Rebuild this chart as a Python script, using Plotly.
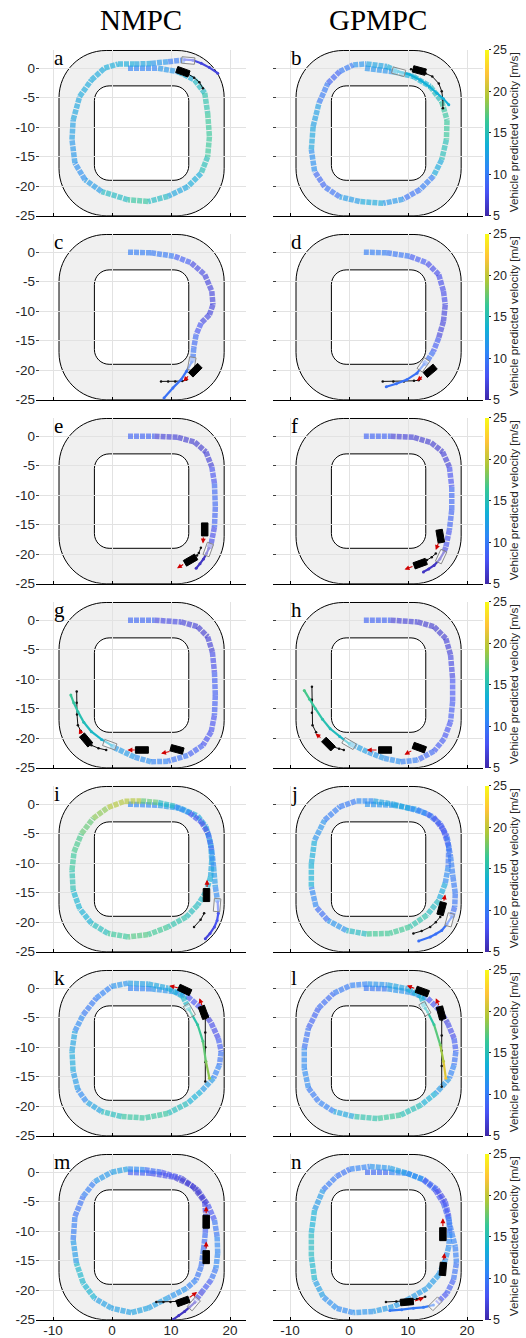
import math
import plotly.graph_objects as go

# ---------------- colour scale (parula) ----------------
VMIN, VMAX = 5, 25
PARULA_POS = [0.0, 1 / 7, 2 / 7, 3 / 7, 4 / 7, 5 / 7, 6 / 7, 1.0]
PARULA_RGB = [(0.2422, 0.1504, 0.6603), (0.2810, 0.3228, 0.9579), (0.1786, 0.5289, 0.9682),
              (0.0689, 0.6948, 0.8394), (0.2161, 0.7843, 0.5923), (0.6720, 0.7793, 0.2227),
              (0.9970, 0.7659, 0.2199), (0.9769, 0.9839, 0.0805)]
CBAR_TICKS = [5, 10, 15, 20, 25]
CBAR_TITLE = "Vehicle predicted velocity [m/s]"
COL_TITLES = ["NMPC", "GPMPC"]
LETTERS = list("abcdefghijklmn")

# ---------------- track geometry ----------------
TRACK_OUT = (-9, -25, 19, 3, 8)
TRACK_IN = (-3, -19, 13, -3, 2.5)

# ---------------- panel data ----------------
# history (x, y, velocity), prediction (x, y, velocity), ego (x, y, heading)
# other cars (x, y, heading), red velocity arrows (x0, y0, x1, y1), black predicted paths
A_HX = [2.7, 7.8, 11.2, 14.0, 15.7, 16.2, 16.5, 16.2, 15.1, 12.8, 9.5, 6.1, 2.7, -1.8, -4.6, -6.3, -6.8, -6.6, -5.5, -3.5, -1.3, 1.0, 3.8, 6.6, 9.5, 12.3]
A_HY = [0.0, 0.0, -0.6, -2.0, -4.2, -7.6, -11.6, -15.0, -17.8, -20.1, -21.7, -22.6, -22.3, -20.9, -18.9, -16.1, -12.1, -8.8, -4.8, -2.0, 0.0, 0.7, 0.7, 0.8, 1.1, 1.4]
A_HV = [10, 11, 12.5, 14, 15, 16, 16.5, 16, 14, 12.5, 13, 16, 16, 13, 11, 11.5, 12, 12.5, 13, 13, 13, 13.5, 13, 12.5, 11, 9]
A_PX = [12.3, 13.7, 15.1, 16.5, 17.9]
A_PY = [1.45, 1.35, 0.85, 0.1, -0.85]
A_PV = [8, 7.5, 7, 7, 7]
A_EGO = (12.9, 1.3, -5)
A_CARS = [(12.0, -0.6, -20)]
A_ARROWS = []
A_PATHS = [[(12.9, -1.0), (13.9, -1.6), (14.8, -2.4), (15.4, -3.4)]]

B_HX = [2.7, 7.5, 10.9, 13.75, 15.7, 16.6, 16.5, 15.7, 14.3, 12.0, 9.2, 5.8, 1.8, -1.6, -4.15, -5.85, -6.4, -6.1, -5.1, -3.6, -1.6, 0.7, 2.95, 6.4, 8.35]
B_HY = [0.0, -0.6, -1.4, -3.1, -5.65, -8.8, -12.1, -15.5, -18.3, -20.6, -22.2, -22.9, -22.6, -21.8, -20.1, -17.5, -13.8, -9.9, -5.9, -2.55, -0.57, 0.56, 0.73, 0.28, -0.57]
B_HV = [10, 13, 13.5, 14, 15.5, 16.5, 16, 14, 12, 8.5, 10.5, 13, 13, 11, 8, 10, 12.5, 13, 11.5, 8.5, 9, 11, 12, 13, 13.5]
B_PX = [8.35, 10.35, 12.05, 13.6, 14.9, 16.0, 16.9]
B_PY = [-0.57, -1.1, -2.0, -3.1, -4.25, -5.2, -6.2]
B_PV = [13.5, 13.5, 13.5, 13.5, 13.5, 13.5, 13.5]
B_EGO = (8.4, -0.6, -15)
B_CARS = [(11.9, -0.4, -15)]
B_ARROWS = []
B_PATHS = [[(10.5, -0.2), (13.0, -0.9), (14.1, -1.4), (15.2, -2.6), (15.7, -3.9), (15.9, -5.3), (15.9, -6.8)]]

C_HX = [2.7, 6.6, 10.6, 13.4, 15.7, 16.9, 17.1, 16.5, 15.1, 14.25, 13.85, 13.7, 13.5]
C_HY = [0.0, -0.1, -0.7, -1.8, -3.8, -6.6, -8.9, -10.6, -12.0, -13.95, -16.2, -17.9, -18.6]
C_HV = [10, 10.5, 9.5, 7.5, 7, 7, 7, 7, 7.5, 8.5, 9.5, 9.5, 9.5]
C_PX = [13.5, 12.6, 11.7, 10.3, 8.8]
C_PY = [-18.6, -20.2, -21.6, -23.0, -24.7]
C_PV = [9.5, 9.5, 9.5, 9.5, 9.5]
C_EGO = (13.5, -18.9, -100)
C_CARS = [(14.1, -20.0, -135)]
C_ARROWS = [(13.1, -20.8, 12.1, -21.9)]
C_PATHS = [[(8.3, -21.9), (9.5, -21.9), (10.7, -21.9), (11.9, -21.85), (12.6, -21.6)]]

D_HX = [2.5, 6.4, 10.3, 13.2, 15.2, 16.0, 16.3, 16.0, 15.2, 14.3, 13.2, 12.7]
D_HY = [0.0, -0.1, -0.7, -1.8, -3.8, -6.6, -8.9, -11.7, -14.5, -16.8, -18.5, -19.0]
D_HV = [10, 10.5, 9, 7.5, 7.5, 7.5, 7.5, 6.5, 7.5, 9, 9.5, 9.5]
D_PX = [12.7, 11.5, 9.8, 8.0, 6.3]
D_PY = [-19.0, -20.5, -21.6, -22.3, -22.8]
D_PV = [9.5, 9.5, 9.5, 9.5, 9.5]
D_EGO = (12.6, -19.1, -125)
D_CARS = [(13.75, -20.1, -140)]
D_ARROWS = [(12.6, -20.9, 11.5, -21.8)]
D_PATHS = [[(5.7, -21.9), (7.5, -21.9), (9.3, -21.9), (11.0, -21.8), (11.8, -21.7)]]

E_HX = [2.7, 7.2, 11.15, 14.0, 15.9, 16.9, 17.35, 17.5, 17.35, 16.8, 16.4]
E_HY = [0.0, 0.0, -0.2, -1.0, -2.65, -5.2, -8.0, -12.0, -15.4, -18.2, -19.0]
E_HV = [10.5, 7, 6.5, 6.5, 6.5, 7, 8.5, 9.5, 8, 7, 7]
E_PX = [16.4, 16.0, 15.5, 14.9, 14.25]
E_PY = [-19.0, -19.9, -20.8, -21.6, -22.4]
E_PV = [6, 6, 6, 6, 6]
E_EGO = (16.3, -19.2, -110)
E_CARS = [(15.7, -15.8, -90), (13.3, -21.0, -150)]
E_ARROWS = [(15.5, -16.9, 15.4, -18.2), (12.3, -21.6, 11.0, -22.4)]
E_PATHS = [[(14.4, -20.2), (14.7, -19.8), (15.05, -18.9)]]

F_HX = [2.5, 7.05, 11.0, 13.9, 15.85, 17.0, 17.4, 17.4, 17.0, 16.4, 16.1]
F_HY = [0.0, 0.0, -0.2, -1.1, -2.65, -5.2, -8.6, -12.5, -15.9, -18.8, -19.6]
F_HV = [10.5, 7, 6.5, 6.5, 6.5, 7, 8.5, 9.5, 8, 7.5, 7]
F_PX = [16.1, 15.4, 14.4, 13.5, 12.6]
F_PY = [-19.6, -20.8, -21.9, -22.5, -23.0]
F_PV = [6, 6, 6, 6, 6]
F_EGO = (15.6, -20.4, -115)
F_CARS = [(15.45, -16.95, -80), (12.05, -21.6, -160)]
F_ARROWS = [(15.2, -17.9, 14.7, -19.3), (11.0, -22.0, 9.4, -22.6)]
F_PATHS = [[(13.2, -21.0), (14.0, -20.5), (14.7, -19.9)]]

G_HX = [2.7, 7.2, 11.7, 14.5, 16.2, 17.0, 17.35, 17.5, 17.35, 16.8, 15.4, 12.85, 9.5, 6.6, 3.8, 0.4, -0.1]
G_HY = [0.0, 0.0, -0.3, -1.1, -2.8, -5.4, -8.8, -12.7, -16.1, -18.9, -21.2, -22.9, -23.9, -24.0, -23.2, -21.6, -21.2]
G_HV = [10.5, 7.5, 7, 6.5, 6.5, 7, 8, 9, 8, 7.5, 8, 9, 10, 11, 11.5, 12.5, 12.5]
G_PX = [-0.1, -1.8, -3.5, -4.8, -5.8, -6.5, -7.0]
G_PY = [-21.2, -20.2, -18.9, -17.3, -15.5, -14.0, -12.7]
G_PV = [13.5, 14, 14.5, 15, 15.5, 16, 16.5]
G_EGO = (-0.4, -21.1, 160)
G_CARS = [(5.05, -22.0, 180), (11.0, -21.9, 165), (-4.4, -20.3, 130)]
G_ARROWS = [(4.1, -22.0, 2.6, -22.0), (10.0, -22.2, 8.3, -22.6), (-5.1, -19.5, -5.6, -18.4)]
G_PATHS = [[(-6.0, -12.1), (-6.0, -14.0), (-5.95, -16.0), (-5.8, -17.8), (-5.3, -18.8)],
           [(-3.5, -21.2), (-2.3, -21.7), (-1.0, -22.0)]]

H_HX = [2.5, 7.05, 11.6, 14.4, 16.4, 17.2, 17.55, 17.55, 17.2, 16.1, 14.4, 11.6, 8.75, 5.9, 3.1, 0.8, 0.0]
H_HY = [0.0, 0.0, -0.3, -1.1, -3.1, -5.9, -9.9, -13.8, -17.2, -20.1, -22.2, -23.7, -24.0, -23.4, -22.3, -21.2, -20.9]
H_HV = [10.5, 7, 6.5, 6.5, 6.5, 7, 7.5, 8.5, 8, 8, 8.5, 9.5, 11, 11.5, 12, 12.5, 13]
H_PX = [0.0, -1.6, -3.2, -4.5, -5.7, -6.7, -7.6]
H_PY = [-20.9, -19.7, -18.4, -16.8, -15.0, -13.4, -11.9]
H_PV = [14, 14.5, 15, 15.5, 16, 16.5, 17]
H_EGO = (0.0, -20.9, 150)
H_CARS = [(6.1, -22.0, 180), (11.9, -21.6, 160), (-3.5, -21.0, 135)]
H_ARROWS = [(4.9, -22.0, 3.0, -22.0), (10.8, -22.0, 9.4, -22.8), (-4.6, -20.1, -5.7, -19.2)]
H_PATHS = [[(-6.3, -11.3), (-6.3, -13.5), (-6.3, -15.7), (-6.2, -17.8), (-5.6, -19.0)],
           [(-2.6, -21.5), (-1.7, -21.8), (-0.9, -22.0)]]

I_HX = [2.7, 7.8, 11.7, 14.5, 15.9, 16.7, 16.9, 16.7, 15.9, 14.5, 12.6, 9.5, 6.1, 2.7, -0.7, -3.5, -5.5, -6.6, -6.8, -6.45, -5.2, -3.2, -0.7, 2.1, 4.9, 7.8, 10.6, 13.1, 15.1, 16.3, 16.9, 17.2, 17.5, 17.9]
I_HY = [0.0, -0.17, -0.73, -2.0, -3.8, -6.6, -9.5, -12.3, -14.9, -17.1, -19.1, -20.8, -22.1, -22.5, -21.9, -20.2, -17.7, -14.6, -11.2, -8.1, -5.0, -2.4, -0.56, 0.5, 0.56, 0.28, -0.34, -1.47, -3.0, -5.0, -7.8, -10.6, -14.0, -16.55]
I_HV = [10, 11.5, 12.5, 13, 13, 13, 12.5, 13, 14, 14.5, 15, 16, 17, 17, 15.5, 14, 13, 14.5, 16, 16.5, 17, 18, 19, 20, 19, 16, 13, 9, 7, 8, 10, 12, 12, 10]
I_PX = [17.9, 18.0, 17.8, 17.35, 16.6, 15.8]
I_PY = [-16.55, -18.5, -19.7, -20.8, -21.9, -22.8]
I_PV = [9, 8, 8, 7.5, 7, 7]
I_EGO = (17.8, -17.1, -95)
I_CARS = [(16.0, -15.4, 90)]
I_ARROWS = [(16.1, -14.3, 16.1, -12.8)]
I_PATHS = [[(15.6, -18.5), (15.0, -19.6), (13.9, -20.8)]]

J_HX = [2.7, 7.5, 11.5, 14.3, 16.0, 16.9, 16.8, 16.3, 15.2, 13.2, 10.3, 6.9, 2.95, -0.45, -3.6, -5.6, -6.4, -6.4, -5.85, -4.15, -1.6, 1.25, 4.1, 7.5, 10.3, 13.2, 15.45, 16.6, 17.2, 17.6, 18.0, 17.9, 17.4]
J_HY = [0.0, -0.17, -0.9, -2.15, -4.4, -7.2, -10.6, -13.4, -16.3, -18.8, -20.8, -21.9, -22.0, -21.4, -19.7, -17.4, -14.0, -10.1, -6.1, -2.7, -0.45, 0.56, 0.56, 0.0, -0.73, -1.6, -3.3, -5.5, -8.9, -12.3, -15.1, -17.4, -19.1]
J_HV = [10, 13, 12, 8, 7, 9, 10, 12, 14, 15, 16, 17, 16, 13, 10, 8.5, 13, 14, 12.5, 10.5, 10, 10, 12, 13, 12, 10, 8, 9, 10.5, 10, 10, 9.5, 9]
J_PX = [17.4, 16.6, 15.7, 14.7, 13.75, 11.8]
J_PY = [-19.1, -20.3, -21.4, -22.0, -22.5, -23.2]
J_PV = [9.5, 9.5, 9.5, 9.5, 9.5, 9.5]
J_EGO = (17.05, -19.6, -105)
J_CARS = [(15.7, -17.7, 75)]
J_ARROWS = [(16.0, -16.6, 16.3, -15.3)]
J_PATHS = [[(15.45, -19.1), (14.7, -20.0), (13.75, -20.8), (12.3, -21.5), (10.9, -21.9)]]

K_HX = [2.7, 6.6, 10.6, 12.8, 15.1, 16.8, 18.0, 18.5, 18.2, 17.2, 15.1, 12.8, 9.5, 5.5, 1.6, -1.8, -4.4, -5.8, -6.6, -6.8, -6.3, -4.9, -2.7, -0.1, 2.7, 6.1, 9.5, 12.0, 13.1]
K_HY = [0.0, -0.1, -0.6, -1.4, -3.4, -5.9, -8.5, -10.7, -13.0, -15.25, -17.5, -19.5, -21.2, -22.0, -21.75, -20.9, -19.2, -17.2, -14.1, -10.7, -7.3, -4.5, -1.7, 0.3, 0.85, 0.7, 0.0, -1.4, -3.7]
K_HV = [10, 11, 12, 9, 7, 7, 8, 9, 10, 11, 13, 14, 15.5, 16.5, 15.5, 14, 11, 11, 13, 13, 12, 10, 10, 11, 12, 12.5, 13, 14, 14.5]
K_PX = [13.1, 14.5, 15.4, 15.9, 16.5]
K_PY = [-3.7, -6.2, -9.0, -12.4, -15.25]
K_PV = [15, 16, 17, 18, 19]
K_EGO = (13.1, -3.8, -60)
K_CARS = [(12.3, -0.3, 155), (15.5, -4.1, 110)]
K_ARROWS = [(11.4, 0.0, 9.7, 0.4), (15.3, -3.1, 14.8, -1.7)]
K_PATHS = [[(15.8, -5.1), (15.8, -7.5), (15.8, -10.0), (15.8, -12.5), (15.8, -15.8)]]

L_HX = [2.5, 6.5, 10.45, 13.3, 15.3, 16.7, 17.8, 18.1, 17.8, 17.0, 14.7, 12.2, 8.75, 4.8, 0.8, -2.6, -5.2, -6.9, -7.6, -7.6, -6.9, -5.2, -2.6, 0.2, 3.1, 6.5, 9.9, 12.2, 12.9]
L_HY = [0.0, -0.1, -0.7, -1.7, -3.7, -5.9, -8.5, -10.7, -13.0, -15.25, -17.8, -19.8, -21.5, -22.1, -21.75, -20.9, -19.2, -16.9, -13.6, -10.2, -6.8, -3.4, -0.85, 0.45, 0.7, 0.56, -0.1, -1.4, -3.4]
L_HV = [9.5, 10, 13, 9, 7, 7, 8, 9, 10, 11, 13, 14, 16, 16.5, 14.5, 11, 10, 10, 12, 10, 9, 8.5, 10, 10, 11, 12, 13, 14, 14]
L_PX = [12.9, 13.3, 14.4, 15.45, 16.0, 16.4]
L_PY = [-3.4, -4.0, -6.2, -9.6, -12.4, -15.25]
L_PV = [14.5, 15, 16.5, 18, 20, 22]
L_EGO = (12.85, -3.5, -60)
L_CARS = [(12.4, -0.56, 160), (15.6, -4.2, 105)]
L_ARROWS = [(11.3, -0.1, 9.8, 0.45), (15.3, -3.1, 14.7, -1.7)]
L_PATHS = [[(15.7, -5.4), (15.7, -8.0), (15.7, -10.6), (15.7, -13.2), (15.7, -16.7)]]

M_HX = [2.7, 6.6, 10.6, 13.7, 15.7, 15.9, 15.8, 15.5, 15.1, 14.25, 12.6, 9.5, 6.1, 3.25, -0.1, -2.95, -4.9, -6.05, -6.6, -6.3, -4.9, -2.95, -0.1, 2.7, 5.5, 8.3, 11.7, 14.5, 16.2, 17.35, 17.8, 17.9, 17.6, 16.8, 15.4, 14.0]
M_HY = [0.0, -0.17, -0.85, -2.4, -5.0, -7.5, -10.3, -13.1, -16.0, -18.25, -19.7, -21.3, -23.05, -23.8, -23.05, -21.4, -18.8, -15.4, -11.5, -7.5, -4.1, -1.6, 0.0, 0.56, 0.4, 0.0, -1.0, -3.0, -5.5, -8.1, -10.9, -13.7, -16.3, -18.25, -20.1, -21.9]
M_HV = [8.5, 8, 7, 6, 6.5, 8, 9, 9.5, 9.5, 10, 11, 12, 12.5, 12.5, 12, 12.5, 15, 13, 11, 9.5, 9.5, 11, 12.5, 12, 10, 8.5, 7, 6.5, 7, 9, 10.5, 11, 10.5, 9, 7.5, 7]
M_PX = [14.0, 13.1, 12.3, 11.3, 10.3]
M_PY = [-22.1, -22.9, -23.6, -24.3, -25.0]
M_PV = [6, 6, 6, 6, 6]
M_EGO = (13.85, -22.3, -130)
M_CARS = [(12.0, -21.9, 20), (15.95, -8.4, 90), (15.95, -14.4, 90)]
M_ARROWS = [(12.9, -21.4, 14.4, -20.3), (15.95, -7.2, 15.95, -5.8), (15.95, -13.2, 15.95, -11.75)]
M_PATHS = [[(7.5, -22.0), (8.7, -22.0), (9.9, -22.0), (11.15, -21.9)]]

N_HX = [2.7, 6.9, 9.8, 12.6, 14.9, 16.3, 16.9, 17.05, 16.9, 16.3, 15.2, 13.2, 10.3, 7.5, 4.1, 0.7, -2.15, -4.4, -5.85, -6.4, -6.4, -5.85, -4.4, -2.15, 0.1, 3.5, 6.9, 9.8, 12.6, 14.6, 16.0, 16.9, 17.4, 18.0, 18.2, 17.7, 16.6, 14.9]
N_HY = [0.0, 0.0, -0.17, -1.2, -2.9, -5.0, -7.5, -10.3, -12.6, -14.9, -17.4, -19.7, -21.4, -22.8, -23.6, -23.8, -23.05, -21.1, -18.25, -14.3, -10.3, -6.4, -3.0, -0.73, 0.5, 0.96, 0.68, -0.17, -1.3, -3.0, -5.25, -8.1, -10.3, -12.6, -15.4, -18.25, -20.5, -22.2]
N_HV = [9, 9, 12, 10, 7.5, 7, 9, 10.5, 11, 11.5, 12, 12, 12, 12, 12, 11, 11, 11.5, 13, 15, 14, 13, 11, 9, 10, 11, 12, 12.5, 10, 8, 8, 9.5, 10.5, 10.5, 10, 9, 8, 8]
N_PX = [14.3, 12.6, 10.9, 8.9, 6.9]
N_PY = [-22.5, -22.9, -23.05, -23.3, -23.45]
N_PV = [10, 10, 10, 10, 10]
N_EGO = (14.6, -22.3, -135)
N_CARS = [(9.8, -22.0, 5), (15.9, -10.5, 90), (15.9, -16.4, 85)]
N_ARROWS = [(10.9, -21.9, 12.7, -21.3), (15.9, -9.4, 15.9, -7.8), (16.0, -15.1, 16.2, -13.7)]
N_PATHS = [[(6.25, -22.0), (8.0, -21.9), (9.8, -21.8), (11.5, -21.5), (12.9, -21.1)]]

PANELS = [
    (A_HX, A_HY, A_HV, A_PX, A_PY, A_PV, A_EGO, A_CARS, A_ARROWS, A_PATHS),
    (B_HX, B_HY, B_HV, B_PX, B_PY, B_PV, B_EGO, B_CARS, B_ARROWS, B_PATHS),
    (C_HX, C_HY, C_HV, C_PX, C_PY, C_PV, C_EGO, C_CARS, C_ARROWS, C_PATHS),
    (D_HX, D_HY, D_HV, D_PX, D_PY, D_PV, D_EGO, D_CARS, D_ARROWS, D_PATHS),
    (E_HX, E_HY, E_HV, E_PX, E_PY, E_PV, E_EGO, E_CARS, E_ARROWS, E_PATHS),
    (F_HX, F_HY, F_HV, F_PX, F_PY, F_PV, F_EGO, F_CARS, F_ARROWS, F_PATHS),
    (G_HX, G_HY, G_HV, G_PX, G_PY, G_PV, G_EGO, G_CARS, G_ARROWS, G_PATHS),
    (H_HX, H_HY, H_HV, H_PX, H_PY, H_PV, H_EGO, H_CARS, H_ARROWS, H_PATHS),
    (I_HX, I_HY, I_HV, I_PX, I_PY, I_PV, I_EGO, I_CARS, I_ARROWS, I_PATHS),
    (J_HX, J_HY, J_HV, J_PX, J_PY, J_PV, J_EGO, J_CARS, J_ARROWS, J_PATHS),
    (K_HX, K_HY, K_HV, K_PX, K_PY, K_PV, K_EGO, K_CARS, K_ARROWS, K_PATHS),
    (L_HX, L_HY, L_HV, L_PX, L_PY, L_PV, L_EGO, L_CARS, L_ARROWS, L_PATHS),
    (M_HX, M_HY, M_HV, M_PX, M_PY, M_PV, M_EGO, M_CARS, M_ARROWS, M_PATHS),
    (N_HX, N_HY, N_HV, N_PX, N_PY, N_PV, N_EGO, N_CARS, N_ARROWS, N_PATHS),
]

X_TICKS = [-10, 0, 10, 20]
Y_TICKS = [-25, -20, -15, -10, -5, 0]

# ---------------- layout constants ----------------
FIG_W, FIG_H = 526, 1338
XR = [-12.9, 22.7]
YR = [-25, 3.15]
COL_PX = [(36, 246), (273, 483)]
ROW_TOP0, ROW_STEP, PLOT_H = 49.6, 184, 166.1
SANS = "Liberation Sans, Arial, Helvetica, sans-serif"
SERIF = "Liberation Serif, Times New Roman, serif"
CAR_L, CAR_W = 2.2, 1.1

PARULA_CS = [[p, "rgb(%d,%d,%d)" % tuple(int(round(255 * c)) for c in rgb)]
             for p, rgb in zip(PARULA_POS, PARULA_RGB)]


def parula(v, alpha=1.0):
    t = min(max((v - VMIN) / (VMAX - VMIN), 0.0), 1.0)
    c = PARULA_RGB[-1]
    for i in range(len(PARULA_POS) - 1):
        if t <= PARULA_POS[i + 1]:
            f = (t - PARULA_POS[i]) / (PARULA_POS[i + 1] - PARULA_POS[i])
            c = [PARULA_RGB[i][k] + f * (PARULA_RGB[i + 1][k] - PARULA_RGB[i][k]) for k in range(3)]
            break
    return "rgba(%d,%d,%d,%.2f)" % (round(255 * c[0]), round(255 * c[1]), round(255 * c[2]), alpha)


def rr_path(x0, y0, x1, y1, r):
    k = 0.5523 * r
    return (f"M {x0 + r},{y1} L {x1 - r},{y1} C {x1 - r + k},{y1} {x1},{y1 - r + k} {x1},{y1 - r} "
            f"L {x1},{y0 + r} C {x1},{y0 + r - k} {x1 - r + k},{y0} {x1 - r},{y0} "
            f"L {x0 + r},{y0} C {x0 + r - k},{y0} {x0},{y0 + r - k} {x0},{y0 + r} "
            f"L {x0},{y1 - r} C {x0},{y1 - r + k} {x0 + r - k},{y1} {x0 + r},{y1} Z")


def rect_xy(cx, cy, hdg):
    h = math.radians(hdg)
    ux, uy = math.cos(h), math.sin(h)
    vx, vy = -uy, ux
    pts = [(CAR_L / 2, CAR_W / 2), (CAR_L / 2, -CAR_W / 2), (-CAR_L / 2, -CAR_W / 2),
           (-CAR_L / 2, CAR_W / 2), (CAR_L / 2, CAR_W / 2)]
    return ([cx + a * ux + b * vx for a, b in pts], [cy + a * uy + b * vy for a, b in pts])


fig = go.Figure()
layout_axes = {}
shapes = []
annotations = []


def add_colored_path(xs, ys, vs, width, alpha, xa, ya, dash="solid"):
    groups = {}
    for i in range(len(xs) - 1):
        key = round(0.5 * (vs[i] + vs[i + 1]) * 4) / 4
        gx, gy = groups.setdefault(key, ([], []))
        gx.extend([xs[i], xs[i + 1], None])
        gy.extend([ys[i], ys[i + 1], None])
    for key, (gx, gy) in groups.items():
        fig.add_trace(go.Scatter(x=gx, y=gy, mode="lines", xaxis=xa, yaxis=ya,
                                 line=dict(color=parula(key, alpha), width=width, dash=dash),
                                 hoverinfo="skip", showlegend=False))


for p, (hx, hy, hv, px, py, pv, ego, cars, arrows, paths) in enumerate(PANELS):
    r, c = divmod(p, 2)
    n = p + 1
    xa = "x" if n == 1 else f"x{n}"
    ya = "y" if n == 1 else f"y{n}"
    top = ROW_TOP0 + ROW_STEP * r
    bot = top + PLOT_H
    x0px, x1px = COL_PX[c]
    bottom_row = r == 6
    layout_axes["xaxis" if n == 1 else f"xaxis{n}"] = dict(
        domain=[x0px / FIG_W, x1px / FIG_W], range=XR, anchor=ya, fixedrange=True,
        tickvals=X_TICKS, ticktext=[str(t) for t in X_TICKS], showticklabels=bottom_row,
        ticks="inside", ticklen=3, tickcolor="#000000", showline=True, linecolor="#000000",
        linewidth=1, showgrid=True, gridcolor="#e2e2e2", gridwidth=1, zeroline=False,
        ticklabelstandoff=-2,
        tickfont=dict(family=SANS, size=13.5, color="#262626"))
    layout_axes["yaxis" if n == 1 else f"yaxis{n}"] = dict(
        domain=[1 - bot / FIG_H, 1 - top / FIG_H], range=YR, anchor=xa, fixedrange=True,
        tickvals=Y_TICKS, ticktext=[str(t) for t in Y_TICKS], showticklabels=(c == 0),
        ticks="inside", ticklen=3, tickcolor="#404040", showline=False,
        showgrid=True, gridcolor="#e2e2e2", gridwidth=1, zeroline=False,
        tickfont=dict(family=SANS, size=13.5, color="#262626"))

    # track
    shapes.append(dict(type="path", path=rr_path(*TRACK_OUT), xref=xa, yref=ya, layer="below",
                       fillcolor="#f0f0f0", line=dict(color="#000000", width=1)))
    shapes.append(dict(type="path", path=rr_path(*TRACK_IN), xref=xa, yref=ya, layer="below",
                       fillcolor="#ffffff", line=dict(color="#000000", width=1)))

    # history of ego vehicle (semi-transparent square-ish dashes)
    add_colored_path(hx, hy, hv, 5.5, 0.65, xa, ya, dash="5px,1px")

    # black predicted paths of other vehicles
    for path in paths:
        fig.add_trace(go.Scatter(x=[q[0] for q in path], y=[q[1] for q in path], mode="lines+markers",
                                 xaxis=xa, yaxis=ya, line=dict(color="#111111", width=1),
                                 marker=dict(size=2.5, color="#111111"),
                                 hoverinfo="skip", showlegend=False))

    # ego prediction
    add_colored_path(px, py, pv, 2.2, 1.0, xa, ya)
    fig.add_trace(go.Scatter(x=px, y=py, mode="markers", xaxis=xa, yaxis=ya,
                             marker=dict(size=3, color=pv, colorscale=PARULA_CS, cmin=VMIN, cmax=VMAX),
                             hoverinfo="skip", showlegend=False))

    # ego vehicle outline
    ex, ey = rect_xy(*ego)
    fig.add_trace(go.Scatter(x=ex, y=ey, mode="lines", fill="toself", fillcolor="rgba(255,255,255,0.45)",
                             xaxis=xa, yaxis=ya, line=dict(color="#8a8a8a", width=1),
                             hoverinfo="skip", showlegend=False))

    # other vehicles
    for car in cars:
        cx, cy = rect_xy(*car)
        fig.add_trace(go.Scatter(x=cx, y=cy, mode="lines", fill="toself", fillcolor="#000000",
                                 xaxis=xa, yaxis=ya, line=dict(color="#000000", width=1),
                                 hoverinfo="skip", showlegend=False))

    for (ax0, ay0, ax1, ay1) in arrows:
        annotations.append(dict(x=ax1, y=ay1, ax=ax0, ay=ay0, xref=xa, yref=ya, axref=xa, ayref=ya,
                                text="", showarrow=True, arrowhead=2, arrowsize=0.9, arrowwidth=1.1,
                                arrowcolor="#d00000", standoff=0, startstandoff=0))

    annotations.append(dict(x=-10.2, y=1.8, xref=xa, yref=ya, text=LETTERS[p], showarrow=False,
                            xanchor="left", yanchor="middle",
                            font=dict(family=SERIF, size=21, color="#000000")))

    # colour bar for each row
    if c == 1:
        ymid = 1 - (top + bot) / 2 / FIG_H
        fig.add_trace(go.Scatter(
            x=[-100, -100], y=[-100, -100], mode="markers", xaxis=xa, yaxis=ya,
            marker=dict(color=[VMIN, VMAX], cmin=VMIN, cmax=VMAX, colorscale=PARULA_CS, showscale=True,
                        size=1,
                        colorbar=dict(x=485 / FIG_W, xanchor="left", xpad=0, y=ymid, yanchor="middle",
                                      ypad=0, len=PLOT_H / FIG_H, lenmode="fraction", thickness=4,
                                      thicknessmode="pixels", outlinewidth=0, tickvals=CBAR_TICKS,
                                      ticks="outside", ticklen=2, tickcolor="#262626",
                                      tickfont=dict(family=SANS, size=12.5, color="#262626"))),
            hoverinfo="skip", showlegend=False))
        annotations.append(dict(x=513.5 / FIG_W, y=ymid, xref="paper", yref="paper", text=CBAR_TITLE,
                                textangle=-90, showarrow=False, xanchor="center", yanchor="middle",
                                font=dict(family=SANS, size=11.7, color="#262626")))

for i, t in enumerate(COL_TITLES):
    cx = (COL_PX[i][0] + COL_PX[i][1]) / 2 / FIG_W
    annotations.append(dict(x=cx, y=1 - 20 / FIG_H, xref="paper", yref="paper", text=t, showarrow=False,
                            xanchor="center", yanchor="middle",
                            font=dict(family=SERIF, size=29, color="#000000")))

fig.update_layout(width=FIG_W, height=FIG_H, margin=dict(l=0, r=0, t=0, b=0, autoexpand=False),
                  paper_bgcolor="#ffffff", plot_bgcolor="#ffffff", showlegend=False,
                  shapes=shapes, annotations=annotations, **layout_axes)

fig.write_html("out.html", config={"displayModeBar": False},
               post_script="document.body.style.margin='0px';document.body.style.overflow='hidden';")
